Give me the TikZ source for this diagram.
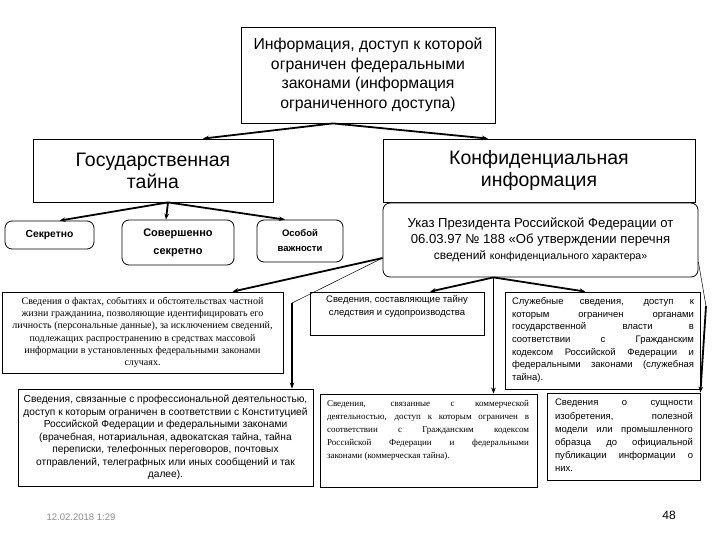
\documentclass[tikz,border=0pt]{standalone}
\usepackage{fontspec}
\setmainfont{Liberation Sans}
\newfontfamily\serfont{Liberation Serif}
\usetikzlibrary{arrows.meta}
\begin{document}
\begin{tikzpicture}[x=1pt,y=-1pt,
 box/.style={draw, line width=0.8pt, fill=white, inner sep=0pt, align=center},
 rbox/.style={box, rounded corners=7pt},
 txt/.style={inner sep=0pt},
 arr/.style={line width=1.8pt, -{Stealth[length=6pt,width=4.5pt]}},
 thinline/.style={line width=0.5pt}]
\useasboundingbox[fill=white] (0,0) rectangle (720,540);

% boxes
\node[box, minimum width=254pt, minimum height=96pt, font=\fontsize{15.8}{19.5}\selectfont] (top) at (368,75)
 {Информация, доступ к которой\\ограничен федеральными\\законами (информация\\ограниченного доступа)};
\node[box, minimum width=240pt, minimum height=63pt, font=\fontsize{19.5}{22}\selectfont] (gos) at (153,170.5)
 {Государственная\\тайна};
\node[box, minimum width=312pt, minimum height=63pt, font=\fontsize{19.5}{22}\selectfont] (konf) at (539,170.5)
 {Конфиденциальная\\информация};
\node[rbox, minimum width=315pt, minimum height=74pt, font=\fontsize{13.1}{16}\selectfont] (ukaz) at (540.5,240)
 {Указ Президента Российской Федерации от\\06.03.97 № 188 «Об утверждении перечня\\{\fontsize{12}{16}\selectfont сведений} {\fontsize{10.5}{16}\selectfont конфиденциального характера»}};

\node[rbox, minimum width=89pt, minimum height=28pt, font=\fontsize{10.3}{18}\selectfont\bfseries] (sekretno) at (49.5,235)
 {Секретно};
\node[rbox, minimum width=112pt, minimum height=45pt, font=\fontsize{11}{18}\selectfont\bfseries] (sovershenno) at (178,242.5)
 {Совершенно\\секретно};
\node[rbox, minimum width=86pt, minimum height=42pt, font=\fontsize{9.5}{15}\selectfont\bfseries] (osoboi) at (300,241)
 {Особой\\важности};

\node[box, minimum width=281pt, minimum height=81pt, font=\serfont\fontsize{10}{12.2}\selectfont] (personal) at (142.5,332.5)
 {Сведения о фактах, событиях и обстоятельствах частной\\жизни гражданина, позволяющие идентифицировать его\\личность (персональные данные), за исключением сведений,\\подлежащих распространению в средствах массовой\\информации в установленных федеральными законами\\случаях.};

\node[box, minimum width=174pt, minimum height=43pt] (sledstvie) at (397,313.5) {};
\node[txt, align=center, font=\fontsize{9.5}{13}\selectfont] (sledtxt) at (397,306.5)
 {Сведения, составляющие тайну\\следствия и судопроизводства};

\node[box, minimum width=195pt, minimum height=97pt] (sluzhebnye) at (602.5,340.5) {};
\node[txt, anchor=north, text width=182pt, align=justify, font=\fontsize{9.5}{12.6}\selectfont] (sluztxt) at (603,297.5)
 {Служебные сведения, доступ к\linebreak которым ограничен органами\linebreak государственной власти в\linebreak соответствии с Гражданским\linebreak кодексом Российской Федерации и\linebreak федеральными законами (служебная\linebreak тайна).};

\node[box, minimum width=295pt, minimum height=97pt, font=\fontsize{10.2}{12.5}\selectfont] (professional) at (165.5,437.5)
 {Сведения, связанные с профессиональной деятельностью,\\доступ к которым ограничен в соответствии с Конституцией\\Российской Федерации и федеральными законами\\(врачебная, нотариальная, адвокатская тайна, тайна\\переписки, телефонных переговоров, почтовых\\отправлений, телеграфных или иных сообщений и так\\далее).};

\node[box, minimum width=217pt, minimum height=93pt] (commercial) at (428.5,440.5) {};
\node[txt, anchor=north, text width=202pt, align=justify, font=\serfont\fontsize{9}{13}\selectfont] (commtxt) at (428,400)
 {Сведения, связанные с коммерческой\linebreak деятельностью, доступ к которым ограничен в\linebreak соответствии с Гражданским кодексом\linebreak Российской Федерации и федеральными\linebreak законами (коммерческая тайна).};

\node[box, minimum width=153pt, minimum height=87pt] (patent) at (623.5,436.5) {};
\node[txt, anchor=north, text width=138pt, align=justify, font=\fontsize{9.5}{13.2}\selectfont] (pattxt) at (624,399)
 {Сведения о сущности\linebreak изобретения, полезной\linebreak модели или промышленного\linebreak образца до официальной\linebreak публикации информации о\linebreak них.};

\node[txt, text=black!45, font=\fontsize{9.5}{12}\selectfont] (date) at (81,517) {12.02.2018 1:29};
\node[txt, font=\fontsize{12}{14}\selectfont] (page) at (669,515) {48};

% connectors
\draw[arr] ([xshift=-35pt]top.south) -- ([xshift=50pt]gos.north);
\draw[arr] ([xshift=-35pt]top.south) -- ([xshift=-51pt]konf.north);
\draw[arr] ([xshift=15pt]gos.south) -- ([xshift=10pt]sekretno.north);
\draw[arr] ([xshift=15pt]gos.south) -- ([xshift=-12pt]sovershenno.north);
\draw[arr] ([xshift=15pt]gos.south) -- ([xshift=-15pt]osoboi.north);

\coordinate (c1) at (292,303);
\coordinate (c2) at (706,306);
\draw[arr] ([yshift=-18pt]ukaz.west) -- ([xshift=90pt]personal.north);
\draw[thinline] ([yshift=-18pt]ukaz.west) -- (c1);
\draw[arr] (c1) -- (c1 |- professional.north);
\draw[arr] ([xshift=-47pt]ukaz.south) -- ([xshift=33pt]sledstvie.north);
\draw[arr] ([xshift=-47pt]ukaz.south) -- ([xshift=-47pt]ukaz.south |- commercial.north);
\draw[arr] ([xshift=-47pt]ukaz.south) -- ([xshift=-17pt]sluzhebnye.north);
\draw[thinline] ([yshift=-22pt]ukaz.east) -- (c2);
\draw[arr] (c2) -- (patent.north east);
\end{tikzpicture}
\end{document}
